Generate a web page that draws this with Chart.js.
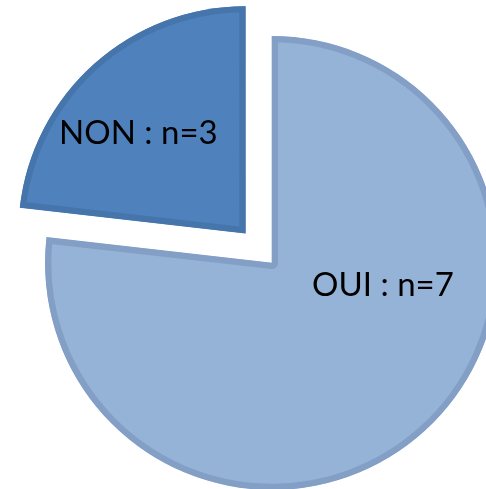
<html lang=en>
<head>
<meta charset="utf-8">
<title>OUI / NON</title>
<script src="https://cdn.jsdelivr.net/npm/chart.js@4.4.1/dist/chart.umd.min.js"></script>
<style>
	html, body { margin: 0; padding: 0; background: #fff; overflow: hidden; }
	#pie { display: block; }
</style>
</head>
<body>
<canvas id="pie" width="486" height="489"></canvas>
<script>
// values
var labels = ["OUI", "NON"];
var counts = [7, 3];            // the n= printed in the slices
var shares = [76.8, 23.2];      // slice sizes as drawn (percent)
var fillColors = ["#95B3D7", "#4F81BD"];
var edgeColors = ["#839FC6", "#4675AC"];

// label place relative to each slice centre (px)
var labelShift = [{x: 111, y: 22}, {x: -107, y: -100}];

var sliceLabels = {
	id: 'sliceLabels',
	afterDatasetsDraw: function (chart) {
		var ctx = chart.ctx;
		var arcs = chart.getDatasetMeta(0).data;
		ctx.save();
		ctx.font = '33px Lato, "Liberation Sans", sans-serif';
		ctx.fillStyle = '#000';
		ctx.textAlign = 'center';
		ctx.textBaseline = 'middle';
		for (var i = 0; i < arcs.length; i++) {
			var a = arcs[i];
			var off = (a.options.offset || 0) / 4;
			var mid = (a.startAngle + a.endAngle) / 2;
			var cx = a.x + Math.cos(mid) * off;
			var cy = a.y + Math.sin(mid) * off;
			ctx.fillText(labels[i] + " : n=" + counts[i], cx + labelShift[i].x, cy + labelShift[i].y);
		}
		ctx.restore();
	}
};

var ctx = document.getElementById("pie");
var myChart = new Chart(ctx, {
	type: 'pie',
	data: {
		labels: labels,
		datasets: [{
			data: shares,
			backgroundColor: fillColors,
			borderColor: edgeColors,
			borderWidth: 6,
			borderAlign: 'inner',
			offset: [0, 160],
			radius: 227,
			clip: false
		}]
	},
	options: {
		responsive: false,
		animation: false,
		layout: { padding: { left: 58, top: 37, right: 0, bottom: 0 } },
		plugins: {
			legend: { display: false },
			tooltip: { enabled: false }
		}
	},
	plugins: [sliceLabels]
});
</script>
</body>
</html>
